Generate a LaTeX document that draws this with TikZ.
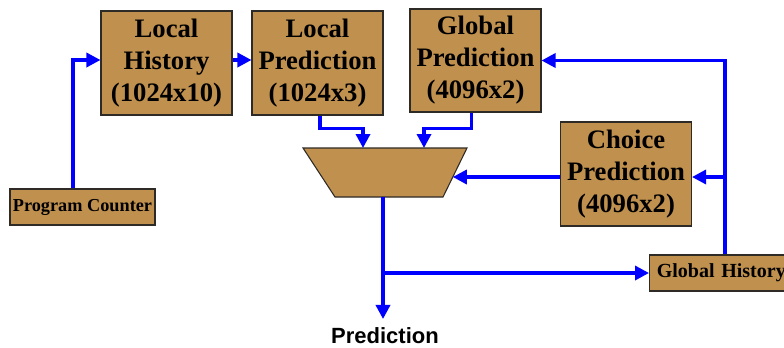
\documentclass[tikz,border=0pt]{standalone}
\usepackage{fontspec}
\setmainfont{Liberation Serif}
\newfontfamily\labelsans{Liberation Sans}
\usetikzlibrary{arrows.meta}
\definecolor{boxtan}{HTML}{C0904E}
\definecolor{boxedge}{HTML}{2E2A26}
\begin{document}
\begin{tikzpicture}[x=0.75pt,y=-0.75pt,
  unit/.style={draw=boxedge, line width=0.8pt, fill=boxtan, inner sep=0pt,
    align=center, font=\fontsize{20}{24}\selectfont\bfseries,
    minimum width=98.25pt, minimum height=78pt},
  smallunit/.style={draw=boxedge, line width=0.8pt, fill=boxtan, inner sep=0pt,
    minimum height=27pt},
  wire/.style={draw=blue, line width=2.5pt},
  arr/.style={wire, -{Triangle[length=10.5pt,width=10.5pt]}}]
\useasboundingbox (0,0) rectangle (784,347);
\clip (0,0) rectangle (784,347);

% storage tables
\node[unit] (lh) at (166.5,63) {Local\\History\\(1024x10)};
\node[unit] (lp) at (317.5,63) {Local\\Prediction\\(1024x3)};
\node[unit, minimum height=77.25pt] (gp) at (475.5,60.5) {Global\\Prediction\\(4096x2)};
\node[unit] (cp) at (626,174) {Choice\\Prediction\\(4096x2)};

% registers
\node[smallunit, minimum width=108.75pt, font=\fontsize{13.7}{16}\selectfont\bfseries]
  (pc) at (82.5,207) {Program Counter};
\node[smallunit, anchor=west, minimum width=120pt, text width=114pt, align=left,
  font=\fontsize{15}{18}\selectfont\bfseries]
  (gh) at (649,273) {\hspace*{2.5pt}Global History};

% selector (multiplexer)
\draw[draw=boxedge, line width=0.8pt, fill=boxtan]
  (303,148) -- (467,148) -- (443,197) -- (335,197) -- cycle;
\coordinate (muxin1) at (363,148);
\coordinate (muxin2) at (424,148);
\coordinate (muxr) at (452.8,177);
\coordinate (muxout) at (383,197);
\coordinate (busj) at (725,177);

% output label
\node[font=\fontsize{16.5}{20}\selectfont\bfseries\labelsans, inner sep=0pt]
  (pred) at (385,336) {Prediction};
\coordinate (predtip) at ([yshift=6.5pt]pred.north);

% connections
\draw[arr] ([xshift=-7.1pt]pc.north) |- ([yshift=2.25pt]lh.west);
\draw[arr] ([yshift=2.25pt]lh.east) -- ([yshift=2.25pt]lp.west);
\draw[arr] ([xshift=1.9pt]lp.south) -- ++(0,13) -| (muxin1);
\draw[arr] ([xshift=-2.85pt]gp.south) -- ++(0,16) -| (muxin2);
\draw[arr] ([yshift=-2.25pt]cp.west) -- (muxr);
\draw[arr] ([xshift=57pt]gh.north west) |- (gp.east);
\draw[arr] (busj) -- ([yshift=-2.25pt]cp.east);
\draw[arr] (muxout) -- (muxout |- predtip);
\draw[arr] (muxout |- gh.west) -- (gh.west);
\end{tikzpicture}
\end{document}
